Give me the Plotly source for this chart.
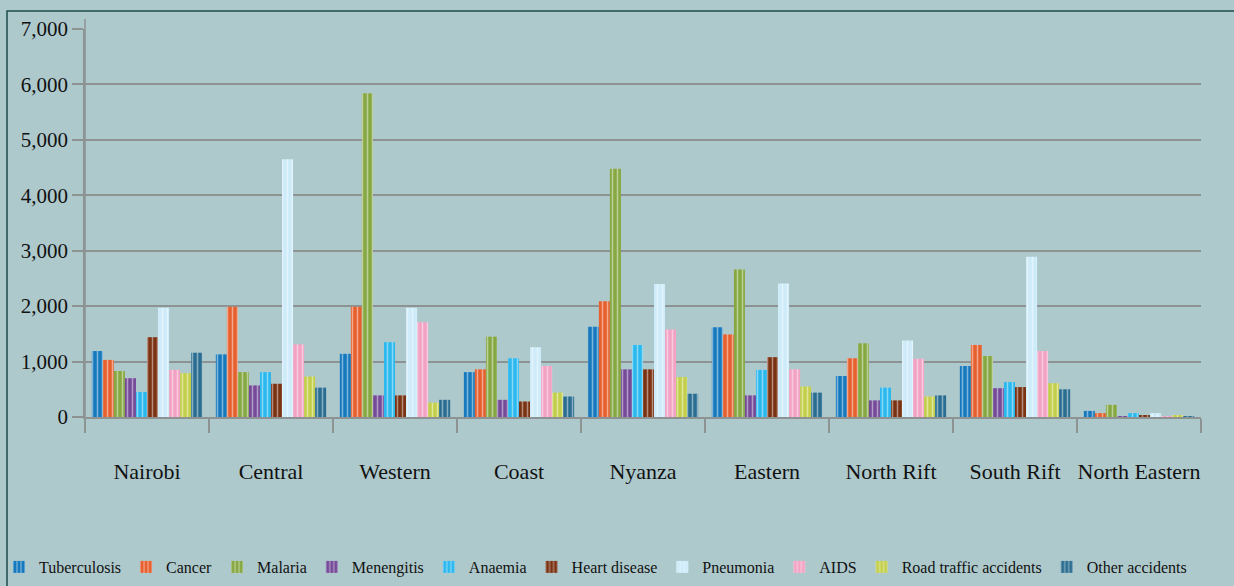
import plotly.graph_objects as go

# Regions along the category axis
regions = ["Nairobi", "Central", "Western", "Coast", "Nyanza",
           "Eastern", "North Rift", "South Rift", "North Eastern"]

# Deaths by cause, one value per region
tuberculosis = [1190, 1130, 1140, 810, 1630, 1620, 740, 920, 110]
cancer = [1030, 1990, 1990, 860, 2090, 1490, 1060, 1300, 70]
malaria = [830, 810, 5840, 1450, 4480, 2660, 1330, 1100, 220]
menengitis = [700, 570, 390, 310, 860, 390, 300, 520, 15]
anaemia = [450, 810, 1350, 1060, 1300, 850, 530, 630, 70]
heart_disease = [1440, 600, 390, 280, 860, 1080, 300, 540, 30]
pneumonia = [1970, 4650, 1970, 1260, 2400, 2410, 1380, 2890, 70]
aids = [850, 1310, 1710, 920, 1580, 860, 1050, 1190, 15]
road_traffic = [790, 730, 260, 440, 720, 550, 370, 610, 30]
other_accidents = [1160, 530, 310, 370, 420, 440, 390, 500, 5]

series = [
    ("Tuberculosis", tuberculosis, "#1679bd"),
    ("Cancer", cancer, "#e6602f"),
    ("Malaria", malaria, "#86a843"),
    ("Menengitis", menengitis, "#744a99"),
    ("Anaemia", anaemia, "#2ab8ee"),
    ("Heart disease", heart_disease, "#7a3212"),
    ("Pneumonia", pneumonia, "#cdebf9"),
    ("AIDS", aids, "#f2a3c3"),
    ("Road traffic accidents", road_traffic, "#c3cf4a"),
    ("Other accidents", other_accidents, "#2a6d91"),
]

BG = "#aec9cc"
GRID = "#8d9393"
FONT = "Liberation Serif"

# plotting area in pixels, used to place the frame and legend
PLOT_W, PLOT_H = 1116, 388

fig = go.Figure()
for name, values, color in series:
    fig.add_trace(go.Bar(
        name=name, x=regions, y=values,
        marker=dict(
            color=color,
            line=dict(width=0),
            pattern=dict(shape="|", fgcolor="white", fgopacity=0.45,
                         size=5, solidity=0.3),
        ),
    ))

fig.update_layout(
    width=1234, height=586,
    paper_bgcolor=BG, plot_bgcolor=BG,
    barmode="group", bargap=0.11, bargroupgap=0,
    margin=dict(l=85, r=33, t=29, b=169, autoexpand=False),
    font=dict(family=FONT, color="#111111"),
    showlegend=True,
    legend=dict(
        orientation="h", xref="paper", yref="paper",
        x=-86 / PLOT_W, y=-167 / PLOT_H, xanchor="left", yanchor="bottom",
        font=dict(family=FONT, size=16, color="#111111"),
        bgcolor="rgba(0,0,0,0)", itemwidth=30, traceorder="normal",
    ),
    xaxis=dict(
        type="category", showgrid=False, automargin=False,
        showline=True, linecolor=GRID, linewidth=2,
        ticks="outside", tickson="boundaries", ticklen=14,
        tickcolor=GRID, tickwidth=2, tickangle=0,
        tickfont=dict(family=FONT, size=22, color="#111111"),
        ticklabelstandoff=34,
    ),
    yaxis=dict(
        range=[0, 7000], dtick=1000, tickformat=",", automargin=False,
        showgrid=True, gridcolor=GRID, gridwidth=2,
        zeroline=False,
        showline=True, linecolor=GRID, linewidth=1.5,
        ticks="outside", ticklen=11, tickcolor=GRID, tickwidth=1.5,
        tickfont=dict(family=FONT, size=21, color="#111111"),
    ),
    shapes=[
        # outer frame of the chart
        dict(type="rect", xref="paper", yref="paper",
             x0=-78 / PLOT_W, x1=1.2,
             y0=-200 / PLOT_H, y1=1 + 18 / PLOT_H,
             line=dict(color="#1d4b4b", width=1.5), layer="below"),
        # value axis extends a little past the plotting area
        dict(type="line", xref="paper", yref="paper",
             x0=0, x1=0, y0=-14 / PLOT_H, y1=1 + 10 / PLOT_H,
             line=dict(color=GRID, width=1.5)),
    ],
)

fig.write_html("out.html")
